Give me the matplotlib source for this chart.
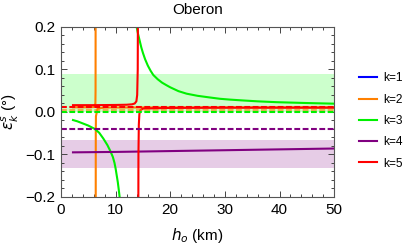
import numpy as np
import matplotlib
matplotlib.use("Agg")
from matplotlib import pyplot as plt
from matplotlib.ticker import MultipleLocator

plt.rcParams['font.family'] = ['Liberation Sans', 'DejaVu Sans']
plt.rcParams['mathtext.fontset'] = 'dejavusans'

# colours (Mathematica defaults)
colors = {1: '#0000ff', 2: '#ff8000', 3: '#00f000', 4: '#800080', 5: '#ff0000'}

# k=3 (green) curve, two branches around the pole
k3_left_h = [2.2, 3, 4, 5, 6.2, 7, 7.75, 8.5, 9.0, 9.5, 9.8, 10.0, 10.2,
             10.4, 10.55, 10.7, 10.85]
k3_left_e = [-0.019, -0.022, -0.027, -0.032, -0.040, -0.049, -0.0625, -0.078,
             -0.091, -0.106, -0.12, -0.133, -0.149, -0.165, -0.18, -0.196,
             -0.215]
k3_right_h = [13.6, 13.85, 14.1, 14.4, 14.7, 15.0, 15.4, 15.9, 16.4, 16.9,
              17.7, 18.5, 19.3, 20, 21.5, 23, 25, 27.3, 29.1, 31, 33.4, 36,
              39.5, 45, 50]
k3_right_e = [0.23, 0.2, 0.184, 0.168, 0.152, 0.139, 0.124, 0.109, 0.097,
              0.087, 0.077, 0.069, 0.063, 0.058, 0.049, 0.043, 0.038, 0.034,
              0.031, 0.029, 0.027, 0.025, 0.023, 0.021, 0.0195]

# k=5 (red) curve
k5_left_h = [2.2, 6, 10, 12, 13, 13.5, 13.8, 13.95, 14.05, 14.1]
k5_left_e = [0.016, 0.016, 0.0165, 0.017, 0.018, 0.02, 0.025, 0.04, 0.1, 0.3]
k5_right_h = [14.15, 14.18, 14.25, 14.35, 14.5, 15, 20, 30, 40, 50]
k5_right_e = [-0.3, -0.1, -0.03, -0.005, 0.004, 0.008, 0.0095, 0.010, 0.010,
              0.010]

# k=2 (orange) curve
k2_left_h = [2.2, 5, 6, 6.3, 6.33, 6.345]
k2_left_e = [0.011, 0.011, 0.0115, 0.02, 0.05, 0.3]
k2_right_h = [6.355, 6.37, 6.4, 6.7, 8, 50]
k2_right_e = [-0.3, -0.05, -0.01, 0.008, 0.0105, 0.011]

# k=4 (purple) curve
k4_h = [2.2, 10, 20, 30, 40, 50]
k4_e = [-0.095, -0.094, -0.092, -0.090, -0.088, -0.086]

# dashed reference levels and shaded bands
dashed_levels = {2: 0.005, 3: -0.001, 4: -0.041, 5: 0.012}
bands = {3: (0.0, 0.089), 4: (-0.133, -0.065)}
band_colors = {3: '#ccffcc', 4: '#e6cce6'}

xlim = (0, 50)
ylim = (-0.2, 0.2)
ytick_vals = [-0.2, -0.1, 0.0, 0.1, 0.2]
ytick_labels = ['\u22120.2', '\u22120.1', '0.0', '0.1', '0.2']
xtick_vals = [0, 10, 20, 30, 40, 50]

fig = plt.figure(figsize=(4.12, 2.45), dpi=100)
ax = fig.add_axes([0.148, 0.196, 0.663, 0.694])

for k, (lo, hi) in bands.items():
    ax.axhspan(lo, hi, color=band_colors[k], lw=0, zorder=0)

lw = 1.5
ax.plot([], [], color=colors[1], lw=lw, label='k=1')
ax.plot(k2_left_h, k2_left_e, color=colors[2], lw=lw, label='k=2')
ax.plot(k2_right_h, k2_right_e, color=colors[2], lw=lw)
ax.plot(k3_left_h, k3_left_e, color=colors[3], lw=lw, label='k=3')
ax.plot(k3_right_h, k3_right_e, color=colors[3], lw=lw)
ax.plot(k4_h, k4_e, color=colors[4], lw=lw, label='k=4')
ax.plot(k5_left_h, k5_left_e, color=colors[5], lw=lw, label='k=5')
ax.plot(k5_right_h, k5_right_e, color=colors[5], lw=lw)

for k, lev in dashed_levels.items():
    ax.plot(xlim, [lev, lev], color=colors[k], lw=lw, dashes=(2.8, 1.2),
            alpha=0.6 if k == 2 else 1.0)

ax.set_xlim(*xlim)
ax.set_ylim(*ylim)
ax.set_yticks(ytick_vals)
ax.set_yticklabels(ytick_labels)
ax.set_xticks(xtick_vals)
ax.xaxis.set_minor_locator(MultipleLocator(2))
ax.yaxis.set_minor_locator(MultipleLocator(0.02))
ax.tick_params(which='both', direction='in', top=True, right=True,
               labelsize=11, color='#444444', width=0.7)
ax.tick_params(which='major', length=4, pad=4)
ax.tick_params(which='minor', length=2)
for sp in ax.spines.values():
    sp.set_color('#555555')
    sp.set_linewidth(0.8)

ax.set_title('Oberon', fontsize=11, pad=9)
ax.set_xlabel(r'$h_o$ (km)', fontsize=11, labelpad=7)
ax.set_ylabel(r'$\epsilon_k^s$ (°)', fontsize=11, labelpad=3)

fig.legend(loc='center left', bbox_to_anchor=(0.871, 0.506), frameon=False,
           fontsize=8.6, handlelength=1.5, handletextpad=0.55,
           labelspacing=0.78, borderpad=0, borderaxespad=0)

fig.savefig('out.png', dpi=100)
